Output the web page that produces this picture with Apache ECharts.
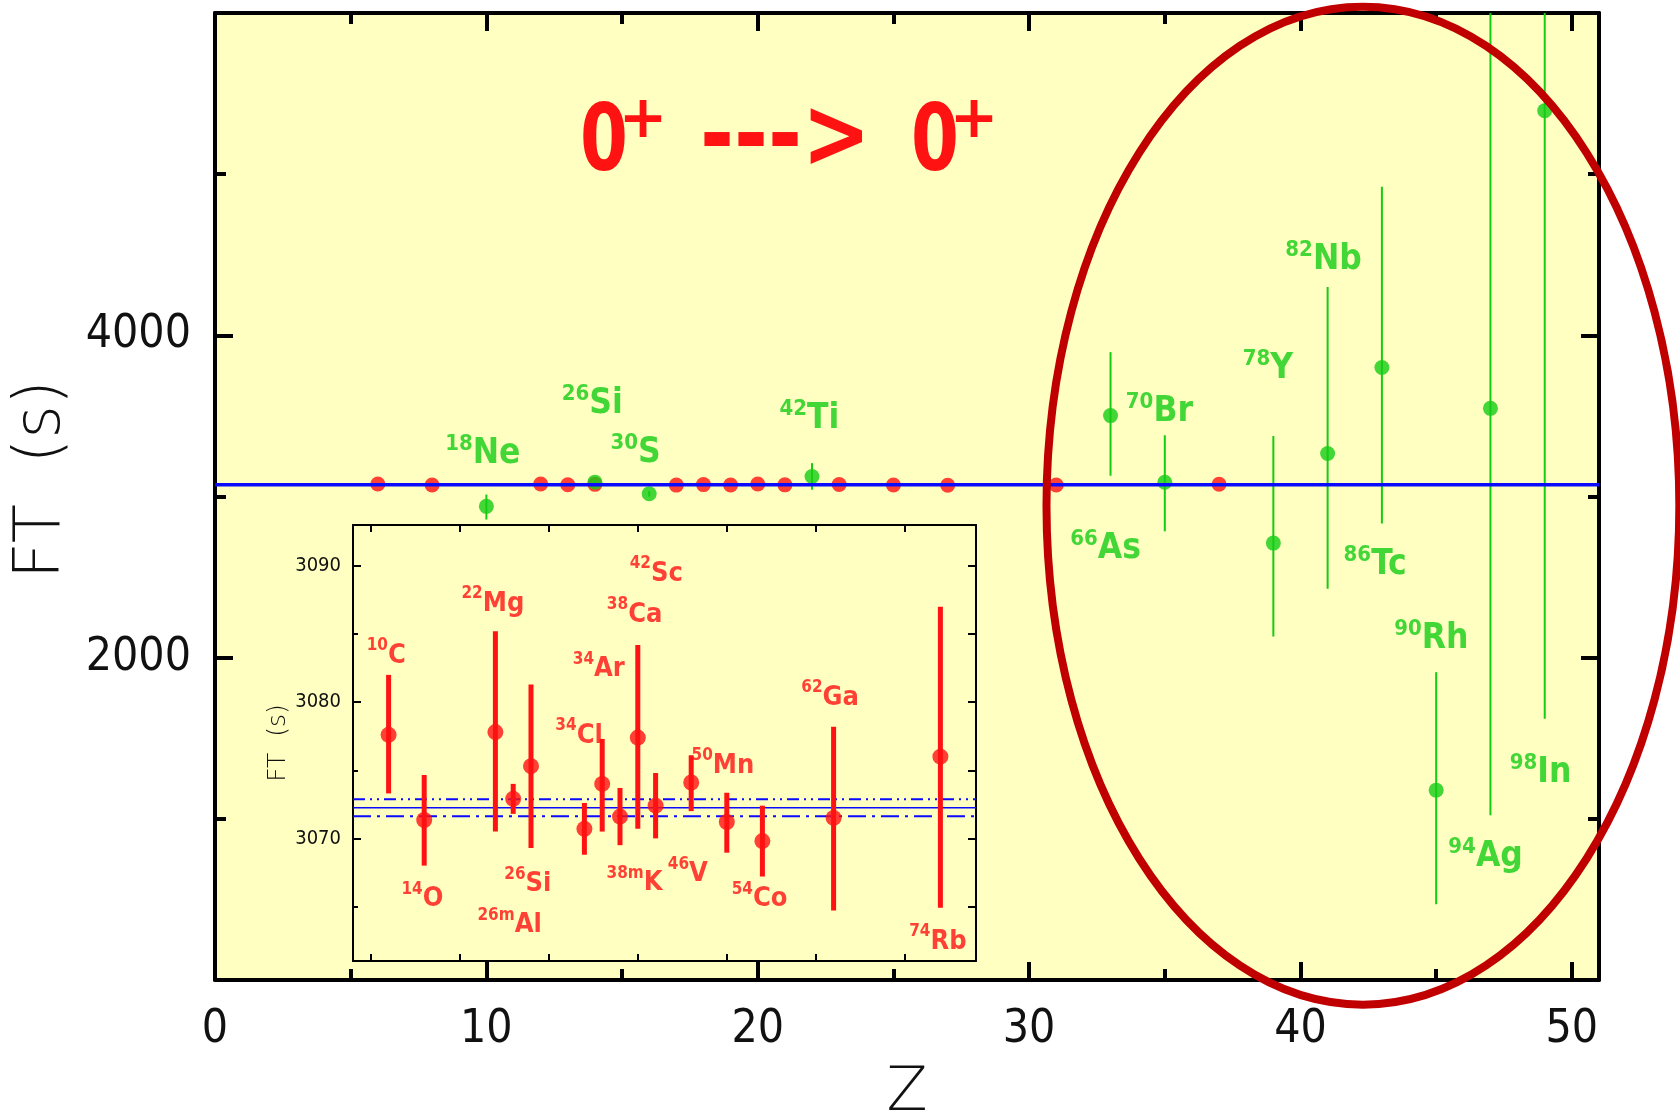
<!DOCTYPE html>
<html><head><meta charset="utf-8">
<script src="https://cdn.jsdelivr.net/npm/echarts@6/dist/echarts.min.js"></script>
<style>html,body{margin:0;padding:0;background:#fff}#c{width:1680px;height:1117px}</style>
</head><body><div id="c"></div><script>
// ---------------- data ----------------
// superallowed 0+ -> 0+ transitions (red): Z, FT (s), error-bar low/high
const redZ   = [6, 8, 12, 13, 14, 17, 18, 19, 20, 21, 23, 25, 27, 31, 37];
const redFT  = [3077.6, 3071.35, 3077.8, 3072.9, 3075.3, 3070.7, 3074.0, 3071.6, 3077.4, 3072.4, 3074.1, 3071.2, 3069.8, 3071.5, 3076.0];
const redLo  = [3073.3, 3068.0, 3070.5, 3071.8, 3069.3, 3068.8, 3070.5, 3069.5, 3070.7, 3070.0, 3072.0, 3068.95, 3067.2, 3064.7, 3064.9];
const redHi  = [3082.0, 3074.65, 3085.2, 3074.0, 3081.3, 3072.6, 3077.3, 3073.7, 3084.2, 3074.8, 3076.1, 3073.35, 3072.4, 3078.2, 3087.0];
const redA   = ['10', '14', '22', '26m', '26', '34', '34', '38m', '38', '42', '46', '50', '54', '62', '74'];
const redSym = ['C', 'O', 'Mg', 'Al', 'Si', 'Cl', 'Ar', 'K', 'Ca', 'Sc', 'V', 'Mn', 'Co', 'Ga', 'Rb'];
const redLabelZ  = [5.87, 7.9, 11.86, 12.8, 13.82, 16.7, 17.81, 19.82, 19.82, 21.04, 22.81, 24.78, 26.84, 30.8, 36.86];
const redLabelFT = [3083.6, 3065.7, 3087.4, 3063.8, 3066.8, 3077.7, 3082.6, 3066.9, 3086.6, 3089.6, 3067.55, 3075.5, 3065.7, 3080.5, 3062.6];

// other 0+ -> 0+ cases (green)
const greenZ   = [10, 14, 16, 22, 33, 35, 39, 41, 43, 45, 47, 49];
const greenFT  = [2939, 3089, 3017, 3124, 3502, 3088, 2711, 3267, 3800, 1178, 3547, 5394];
const greenLo  = [2857, 3075, 3000, 3042, 3129, 2784, 2131, 2428, 2833, 470, 1022, 1621];
const greenHi  = [3012, 3103, 3034, 3207, 3896, 3380, 3375, 4300, 4922, 1910, 6072, 9167];
const greenA   = ['18', '26', '30', '42', '66', '70', '78', '82', '86', '90', '94', '98'];
const greenSym = ['Ne', 'Si', 'S', 'Ti', 'As', 'Br', 'Y', 'Nb', 'Tc', 'Rh', 'Ag', 'In'];
const greenLabelZ  = [9.87, 13.9, 15.5, 21.9, 32.82, 34.8, 38.8, 40.85, 42.75, 44.82, 46.82, 48.85];
const greenLabelFT = [3272, 3583, 3278, 3490, 2687, 3532, 3799, 4478, 2586, 2125, 771, 1294];

const avgFT = 3072.25;
const avgErr = 0.62;

const titleParts = ['0', '+', '--->', '0', '+'];

// ticks
const mainXMajor = [0, 10, 20, 30, 40, 50];
const mainXMinor = [5, 15, 25, 35, 45];
const mainYMajor = [2000, 4000];
const mainYMinor = [1000, 3000, 5000];
const insetXTicks = [5, 10, 15, 20, 25, 30, 35];
const insetYMajor = [3070, 3080, 3090];
const insetYMinor = [3065, 3075, 3085];

// ---------------- style ----------------
const YEL = '#FFFFC2', RED = '#FF1212', GRN = '#14CC14', BLU = '#0A0AFF', DARKRED = '#C00000';
const NUM_FONT = "'DejaVu Sans Condensed','DejaVu Sans',sans-serif";
const LAB_FONT = "'DejaVu Sans Condensed','DejaVu Sans',sans-serif";

const chart = echarts.init(document.getElementById('c'), null, {renderer: 'canvas'});

function tickAxis(opts) {
  const o = {
    type: 'value', gridIndex: opts.grid, min: opts.min, max: opts.max, position: opts.pos,
    axisLine: {show: !!opts.line, onZero: false, lineStyle: {color: '#000', width: opts.lw}},
    axisTick: {show: true, inside: true, length: opts.len, customValues: opts.ticks, lineStyle: {color: '#000', width: opts.lw}},
    axisLabel: {show: false},
    splitLine: {show: false}
  };
  if (opts.labels) {
    o.axisLabel = Object.assign({show: true, customValues: opts.labels, color: '#111',
      formatter: v => String(v)}, opts.labelStyle);
  }
  if (opts.name) Object.assign(o, opts.name);
  return o;
}

function errRender(color, width) {
  return function (params, api) {
    const x = api.value(0);
    const p1 = api.coord([x, api.value(1)]);
    const p2 = api.coord([x, api.value(2)]);
    return {type: 'line', shape: {x1: p1[0], y1: p1[1], x2: p2[0], y2: p2[1]},
            style: {stroke: color, lineWidth: width}};
  };
}

const mainX = [0, 51], mainY = [0, 6000], inX = [4, 39], inY = [3061, 3093];

const option = {
  animation: false,
  backgroundColor: '#fff',
  grid: [
    {left: 215, top: 13, width: 1384, height: 967, show: true, backgroundColor: YEL, borderWidth: 0,
     outerBoundsMode: 'none', containLabel: false},
    {left: 353, top: 525, width: 623, height: 436, show: true, backgroundColor: YEL, borderWidth: 0,
     outerBoundsMode: 'none', containLabel: false}
  ],
  xAxis: [
    tickAxis({grid: 0, min: mainX[0], max: mainX[1], pos: 'bottom', line: true, lw: 4, len: 18, ticks: mainXMajor,
      labels: mainXMajor, labelStyle: {fontSize: 46, fontFamily: NUM_FONT, margin: 27},
      name: {name: 'Z', nameLocation: 'middle', nameGap: 84,
             nameTextStyle: {fontSize: 60, fontFamily: "'DejaVu Sans',sans-serif", fontWeight: 200, color: '#111'}}}),
    tickAxis({grid: 0, min: mainX[0], max: mainX[1], pos: 'bottom', lw: 4, len: 11, ticks: mainXMinor}),
    tickAxis({grid: 0, min: mainX[0], max: mainX[1], pos: 'top', line: true, lw: 4, len: 18, ticks: mainXMajor}),
    tickAxis({grid: 0, min: mainX[0], max: mainX[1], pos: 'top', lw: 4, len: 11, ticks: mainXMinor}),
    tickAxis({grid: 1, min: inX[0], max: inX[1], pos: 'bottom', line: true, lw: 2, len: 7, ticks: insetXTicks}),
    tickAxis({grid: 1, min: inX[0], max: inX[1], pos: 'top', line: true, lw: 2, len: 7, ticks: insetXTicks})
  ],
  yAxis: [
    tickAxis({grid: 0, min: mainY[0], max: mainY[1], pos: 'left', line: true, lw: 4, len: 18, ticks: mainYMajor,
      labels: mainYMajor, labelStyle: {fontSize: 46, fontFamily: NUM_FONT, margin: 24},
      name: {name: 'FT  (s)', nameLocation: 'middle', nameGap: 118, nameRotate: 90,
             nameTextStyle: {fontSize: 64, fontFamily: "'DejaVu Sans',sans-serif", fontWeight: 200, color: '#111',
                             padding: [0, 0, 0, 34]}}}),
    tickAxis({grid: 0, min: mainY[0], max: mainY[1], pos: 'left', lw: 4, len: 11, ticks: mainYMinor}),
    tickAxis({grid: 0, min: mainY[0], max: mainY[1], pos: 'right', line: true, lw: 4, len: 18, ticks: mainYMajor}),
    tickAxis({grid: 0, min: mainY[0], max: mainY[1], pos: 'right', lw: 4, len: 11, ticks: mainYMinor}),
    tickAxis({grid: 1, min: inY[0], max: inY[1], pos: 'left', line: true, lw: 2, len: 8, ticks: insetYMajor,
      labels: insetYMajor, labelStyle: {fontSize: 20, fontFamily: NUM_FONT, margin: 12},
      name: {name: 'FT  (s)', nameLocation: 'middle', nameGap: 62, nameRotate: 90,
             nameTextStyle: {fontSize: 25, fontFamily: "'DejaVu Sans',sans-serif", fontWeight: 200, color: '#111'}}}),
    tickAxis({grid: 1, min: inY[0], max: inY[1], pos: 'left', lw: 2, len: 5, ticks: insetYMinor}),
    tickAxis({grid: 1, min: inY[0], max: inY[1], pos: 'right', line: true, lw: 2, len: 8, ticks: insetYMajor.concat(insetYMinor)})
  ],
  series: [
    // main chart
    {type: 'scatter', name: 'superallowed', xAxisIndex: 0, yAxisIndex: 0, symbolSize: 15, z: 2,
     itemStyle: {color: RED}, data: redZ.map((z, i) => [z, redFT[i]])},
    {type: 'custom', name: 'green-err', xAxisIndex: 0, yAxisIndex: 0, clip: true, z: 3,
     renderItem: errRender(GRN, 2), data: greenZ.map((z, i) => [z, greenLo[i], greenHi[i]])},
    {type: 'scatter', name: 'other', xAxisIndex: 0, yAxisIndex: 0, symbolSize: 15, z: 3,
     itemStyle: {color: GRN}, data: greenZ.map((z, i) => [z, greenFT[i]])},
    {type: 'line', name: 'avg', xAxisIndex: 0, yAxisIndex: 0, symbol: 'none', z: 4,
     lineStyle: {color: BLU, width: 3.5}, data: [[mainX[0], avgFT], [mainX[1], avgFT]]},
    {type: 'scatter', name: 'green-labels', xAxisIndex: 0, yAxisIndex: 0, symbolSize: 0, z: 5, silent: true,
     data: greenLabelZ.map((z, i) => [z, greenLabelFT[i], i]),
     label: {show: true, position: 'inside', color: GRN,
       formatter: p => '{s|' + greenA[p.data[2]] + '}{e|' + greenSym[p.data[2]] + '}',
       rich: {
         s: {fontSize: 22, fontWeight: 'bold', fontFamily: LAB_FONT, color: GRN, lineHeight: 20, verticalAlign: 'top'},
         e: {fontSize: 35, fontWeight: 'bold', fontFamily: LAB_FONT, color: GRN, lineHeight: 38, verticalAlign: 'bottom'}
       }}},
    // inset
    {type: 'line', name: 'avg-in', xAxisIndex: 4, yAxisIndex: 4, symbol: 'none', z: 2,
     lineStyle: {color: BLU, width: 1.5}, data: [[inX[0], avgFT], [inX[1], avgFT]]},
    {type: 'line', name: 'avg-hi', xAxisIndex: 4, yAxisIndex: 4, symbol: 'none', z: 2,
     lineStyle: {color: BLU, width: 2, type: [12, 5, 2, 5, 2, 5]}, data: [[inX[0], avgFT + avgErr], [inX[1], avgFT + avgErr]]},
    {type: 'line', name: 'avg-lo', xAxisIndex: 4, yAxisIndex: 4, symbol: 'none', z: 2,
     lineStyle: {color: BLU, width: 2, type: [18, 6, 3, 6]}, data: [[inX[0], avgFT - avgErr], [inX[1], avgFT - avgErr]]},
    {type: 'custom', name: 'red-err', xAxisIndex: 4, yAxisIndex: 4, clip: true, z: 3,
     renderItem: errRender(RED, 5), data: redZ.map((z, i) => [z, redLo[i], redHi[i]])},
    {type: 'scatter', name: 'superallowed-in', xAxisIndex: 4, yAxisIndex: 4, symbolSize: 16, z: 4,
     itemStyle: {color: RED}, data: redZ.map((z, i) => [z, redFT[i]])},
    {type: 'scatter', name: 'red-labels', xAxisIndex: 4, yAxisIndex: 4, symbolSize: 0, z: 5, silent: true,
     data: redLabelZ.map((z, i) => [z, redLabelFT[i], i]),
     label: {show: true, position: 'inside', color: RED,
       formatter: p => '{s|' + redA[p.data[2]] + '}{e|' + redSym[p.data[2]] + '}',
       rich: {
         s: {fontSize: 17, fontWeight: 'bold', fontFamily: LAB_FONT, color: RED, lineHeight: 14, verticalAlign: 'top'},
         e: {fontSize: 27, fontWeight: 'bold', fontFamily: LAB_FONT, color: RED, lineHeight: 32, verticalAlign: 'bottom'}
       }}}
  ]
};
chart.setOption(option);

// annotations: title and highlight ellipse (placed through the main axes)
const ellC = chart.convertToPixel({gridIndex: 0}, [42.3, 2943]);
const ellE = chart.convertToPixel({gridIndex: 0}, [42.3 + 11.66, 2943 + 3096]);
const TF = '"DejaVu Sans",sans-serif';
chart.setOption({
  graphic: [
    {type: 'text', x: 580, y: 146, scaleX: 0.74, z: 50, style: {text: titleParts[0], font: 'bold 93px ' + TF, fill: RED, verticalAlign: 'middle', align: 'left'}},
    {type: 'text', x: 643, y: 122, z: 50, style: {text: titleParts[1], font: 'bold 58px ' + TF, fill: RED, verticalAlign: 'middle', align: 'center'}},
    {type: 'text', x: 700, y: 141, scaleY: 1.2, z: 50, style: {text: titleParts[2], font: 'bold 82px ' + TF, fill: RED, verticalAlign: 'middle', align: 'left'}},
    {type: 'text', x: 911, y: 146, scaleX: 0.74, z: 50, style: {text: titleParts[3], font: 'bold 93px ' + TF, fill: RED, verticalAlign: 'middle', align: 'left'}},
    {type: 'text', x: 974, y: 122, z: 50, style: {text: titleParts[4], font: 'bold 58px ' + TF, fill: RED, verticalAlign: 'middle', align: 'center'}},
    {type: 'ellipse', z: 100, silent: true,
     shape: {cx: ellC[0], cy: ellC[1], rx: Math.abs(ellE[0] - ellC[0]), ry: Math.abs(ellC[1] - ellE[1])},
     style: {fill: 'none', stroke: DARKRED, lineWidth: 8}}
  ]
});
</script></body></html>
